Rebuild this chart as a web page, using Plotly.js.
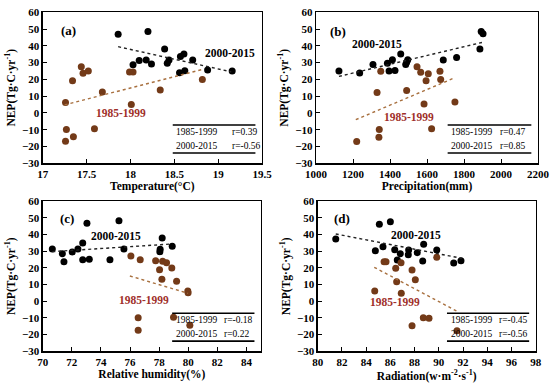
<!DOCTYPE html>
<html><head><meta charset="utf-8">
<script src="https://cdn.plot.ly/plotly-3.0.1.min.js"></script>
<style>html,body{margin:0;padding:0;background:#fff}#chart{width:550px;height:386px}</style>
</head><body><div id="chart"></div>
<script>
// ---- data ----
const tempA_1985 = [17.26,17.34,17.44,17.46,17.52,17.68,17.99,18.03,18.01,18.34,18.82,17.27,17.35,17.26,17.59];
const nepA_1985  = [6.3,19.2,27.6,23.6,25,12.5,24.4,24.4,5.1,13.7,20,-9.8,-14.2,-16.9,-9.4];
const tempA_2000 = [17.86,18.20,18.03,18.10,18.18,18.24,18.39,18.42,18.44,18.57,18.61,18.56,18.62,18.71,18.88,19.16];
const nepA_2000  = [46.9,48.6,28.8,31.2,31.6,29.2,38.1,29.6,31.6,33.6,35.1,24,25.2,31.6,25.6,25.0];

const precB_1985 = [1350,1330,1220,1342,1340,1490,1546,1566,1595,1607,1584,1625,1670,1674,1751];
const nepB_1985  = [24.8,12.2,-17,-9.8,-14.4,13.4,27.5,24.2,19.2,23.4,5.4,-9.4,24.8,20.0,6.6];
const precB_2000 = [1124,1236,1308,1386,1413,1395,1427,1458,1485,1490,1496,1688,1760,1886,1893,1903];
const nepB_2000  = [25.0,23.8,28.9,29.7,31.7,25.0,25.3,35.1,28.9,30.3,31.7,31.5,33.1,38.1,48.6,47.2];

const rhC_1985 = [76.06,76.7,77.76,78.24,78.51,78.03,78.87,78.19,79.2,79.97,79.99,76.56,76.56,78.99,80.11];
const nepC_1985 = [27.2,25,24.4,24,23.2,19,20,13.2,12,6.2,5.2,-9.8,-17.4,-9.6,-14.4];
const rhC_2000 = [70.66,71.35,71.46,72.03,72.42,72.75,73.04,72.75,73.2,74.62,75.24,75.58,78.21,78.07,78.05,78.9];
const nepC_2000 = [31.4,28.6,23.8,29.6,31.4,35,46.8,25,25.2,25,48.4,31.4,38,31.2,29.8,33];

const radD_1985 = [85.48,85.64,86.88,86.44,86.52,87.79,88.06,84.71,86.9,88.72,89.19,87.79,91.5,89.83];
const nepD_1985 = [23.8,23.8,23.2,19.8,11.8,18.8,13,6.2,4.8,-9.8,-10.2,-14.6,-17.6,26.4];
const radD_2000 = [81.49,85.09,86.0,84.76,85.39,86.36,86.82,86.57,87.51,87.48,88.22,88.75,88.67,89.83,91.23,91.83];
const nepD_2000 = [37.4,46.2,47.8,30.4,32.8,31,28.6,24.8,30.8,28,29.2,34.2,24.2,30.8,23,24.4];

// trend line end points
const trendA_2000_x = [17.86,19.15], trendA_2000_y = [39.5,24.5];
const trendA_1985_x = [17.25,18.84], trendA_1985_y = [4.8,26.2];
const trendB_2000_x = [1124,1900],   trendB_2000_y = [21.8,42.1];
const trendB_1985_x = [1215,1746],   trendB_1985_y = [-4.0,20.8];
const trendC_2000_x = [70.66,78.9],  trendC_2000_y = [29.8,34.4];
const trendC_1985_x = [75.99,79.99], trendC_1985_y = [15.2,4.8];
const trendD_2000_x = [81.49,91.89], trendD_2000_y = [40.4,25.8];
const trendD_1985_x = [84.67,91.56], trendD_1985_y = [20.4,-6.2];

const panelLabels = ['(a)','(b)','(c)','(d)'];
const periods = ['1985-1999','2000-2015'];
const rValues = [['r=0.39','r=-0.56'],['r=0.47','r=0.85'],['r=-0.18','r=0.22'],['r=-0.45','r=-0.56']];
const xTitles = ['Temperature(°C)','Precipitation(mm)','Relative humidity(%)','Radiation(w·m<sup>-2</sup>·s<sup>-1</sup>)'];
const yTitle = 'NEP(Tg·C·yr<sup>-1</sup>)';

// ---- styling ----
const FONT = 'Liberation Serif, Times New Roman, serif';
const BROWN = '#733a18', BLACK = '#000', BROWNLINE = '#a8703f';

const panels = [
  {x1:tempA_1985,y1:nepA_1985,x2:tempA_2000,y2:nepA_2000,t1x:trendA_1985_x,t1y:trendA_1985_y,t2x:trendA_2000_x,t2y:trendA_2000_y},
  {x1:precB_1985,y1:nepB_1985,x2:precB_2000,y2:nepB_2000,t1x:trendB_1985_x,t1y:trendB_1985_y,t2x:trendB_2000_x,t2y:trendB_2000_y},
  {x1:rhC_1985,y1:nepC_1985,x2:rhC_2000,y2:nepC_2000,t1x:trendC_1985_x,t1y:trendC_1985_y,t2x:trendC_2000_x,t2y:trendC_2000_y},
  {x1:radD_1985,y1:nepD_1985,x2:radD_2000,y2:nepD_2000,t1x:trendD_1985_x,t1y:trendD_1985_y,t2x:trendD_2000_x,t2y:trendD_2000_y}
];

const traces = [];
panels.forEach((p,i)=>{
  const xa = i===0?'x':'x'+(i+1), ya = i===0?'y':'y'+(i+1);
  traces.push({x:p.x2,y:p.y2,mode:'markers',type:'scatter',xaxis:xa,yaxis:ya,marker:{color:BLACK,size:7},hoverinfo:'skip'});
  traces.push({x:p.x1,y:p.y1,mode:'markers',type:'scatter',xaxis:xa,yaxis:ya,marker:{color:BROWN,size:7},hoverinfo:'skip'});
  traces.push({x:p.t2x,y:p.t2y,mode:'lines',type:'scatter',xaxis:xa,yaxis:ya,line:{color:'#222',width:1.4,dash:'dot'},hoverinfo:'skip'});
  traces.push({x:p.t1x,y:p.t1y,mode:'lines',type:'scatter',xaxis:xa,yaxis:ya,line:{color:BROWNLINE,width:1.4,dash:'dot'},hoverinfo:'skip'});
});

const W=550,H=386;
const xDom = [[42.7/W,262/W],[316/W,538/W],[42.7/W,261/W],[317.7/W,535.7/W]];
const yDomTop = [1-163.3/H,1-12.3/H], yDomBot=[1-351.3/H,1-201.3/H];
const xRanges = [[17,19.5],[1000,2200],[70,85],[80,98]];
const xDticks = [0.5,200,2,2];

function xaxisDef(i){
  return {domain:xDom[i],range:xRanges[i],dtick:xDticks[i],tick0:xRanges[i][0],
    anchor:i===0?'y':'y'+(i+1),showgrid:false,zeroline:false,showline:true,mirror:true,
    linecolor:'#000',linewidth:1.3,ticks:'inside',ticklen:4,tickcolor:'#000',
    tickfont:{family:FONT,size:11,color:'#000',weight:'bold'},
    title:{text:'<b>'+xTitles[i]+'</b>',font:{family:FONT,size:11.5,color:'#000'},standoff:2}};
}
function yaxisDef(i){
  return {domain:i<2?yDomTop:yDomBot,range:[-30,60],dtick:10,
    anchor:i===0?'x':'x'+(i+1),showgrid:false,zeroline:false,showline:true,mirror:true,
    linecolor:'#000',linewidth:1.3,ticks:'inside',ticklen:4,tickcolor:'#000',
    tickfont:{family:FONT,size:11,color:'#000',weight:'bold'},
    title:{text:'<b>'+yTitle+'</b>',font:{family:FONT,size:11.5,color:'#000'},standoff:4}};
}

const layout = {width:W,height:H,margin:{l:0,r:0,t:0,b:0},showlegend:false,
  paper_bgcolor:'#fff',plot_bgcolor:'#fff',font:{family:FONT,color:'#000'},
  annotations:[],shapes:[]};
for(let i=0;i<4;i++){
  const s = i===0?'':String(i+1);
  layout['xaxis'+s]=xaxisDef(i);
  layout['yaxis'+s]=yaxisDef(i);
}

// group label positions (data coords)
const lab2000 = [[19.14,35.7],[1330,41.1],[75.03,39.2],[88.12,39.8]];
const lab1985 = [[17.89,0],[1503,-2.4],[76.95,0.8],[86.38,-0.4]];
const labPanel = [[17.29,48.9],[1119,48.3],[71.67,49.4],[82.0,49.4]];
const rCol = [0.855,0.82,0.82,0.822];

for(let i=0;i<4;i++){
  const xa = i===0?'x':'x'+(i+1), ya = i===0?'y':'y'+(i+1);
  layout.annotations.push({xref:xa,yref:ya,x:labPanel[i][0],y:labPanel[i][1],xanchor:'center',yanchor:'middle',text:'<b>'+panelLabels[i]+'</b>',showarrow:false,font:{family:FONT,size:13,color:'#000'}});
  layout.annotations.push({xref:xa,yref:ya,x:lab2000[i][0],y:lab2000[i][1],xanchor:'center',yanchor:'middle',text:'<b>'+periods[1]+'</b>',showarrow:false,font:{family:FONT,size:11.5,color:'#000'}});
  layout.annotations.push({xref:xa,yref:ya,x:lab1985[i][0],y:lab1985[i][1],xanchor:'center',yanchor:'middle',text:'<b>'+periods[0]+'</b>',showarrow:false,font:{family:FONT,size:11.5,color:'#a0302a'}});
  // small table
  const xd = xa+' domain', yd = ya+' domain';
  layout.shapes.push({type:'line',xref:xd,yref:yd,x0:0.593,x1:0.97,y0:0.254,y1:0.254,line:{color:'#000',width:1.6}});
  layout.shapes.push({type:'line',xref:xd,yref:yd,x0:0.593,x1:0.97,y0:0.068,y1:0.068,line:{color:'#000',width:1.6}});
  const tf = {family:FONT,size:9.5,color:'#000'};
  layout.annotations.push({xref:xd,yref:yd,x:0.6,y:0.207,xanchor:'left',yanchor:'middle',text:periods[0],showarrow:false,font:tf});
  layout.annotations.push({xref:xd,yref:yd,x:0.6,y:0.115,xanchor:'left',yanchor:'middle',text:periods[1],showarrow:false,font:tf});
  layout.annotations.push({xref:xd,yref:yd,x:rCol[i],y:0.207,xanchor:'left',yanchor:'middle',text:rValues[i][0],showarrow:false,font:tf});
  layout.annotations.push({xref:xd,yref:yd,x:rCol[i],y:0.115,xanchor:'left',yanchor:'middle',text:rValues[i][1],showarrow:false,font:tf});
}

Plotly.newPlot('chart',traces,layout,{displayModeBar:false,staticPlot:true});
</script></body></html>
